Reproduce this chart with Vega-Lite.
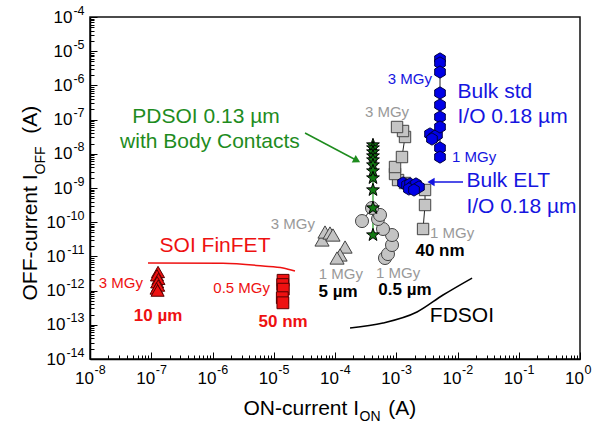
{
  "$schema": "https://vega.github.io/schema/vega-lite/v6.json",
  "width": 490,
  "height": 342,
  "autosize": {"type": "none"},
  "padding": {"left": 90, "top": 17, "right": 12, "bottom": 63},
  "background": "white",
  "config": {
    "view": {"stroke": "#111", "strokeWidth": 1.5},
    "font": "Liberation Sans",
    "axis": {
      "labelFont": "Liberation Sans", "labelFontSize": 17, "labelColor": "#000",
      "titleFont": "Liberation Sans", "titleFontSize": 21, "titleFontWeight": "normal", "titleColor": "#000",
      "domainColor": "#000", "domainWidth": 1.5, "tickColor": "#000", "tickWidth": 1,
      "grid": false, "labelOverlap": false, "labelFlush": false, "labelBound": false
    }
  },
  "datasets": {
    "tri10": [{"x":1.29e-7,"y":3.5e-12},{"x":1.24e-7,"y":2.8e-12},{"x":1.31e-7,"y":2.2e-12},{"x":1.25e-7,"y":1.75e-12},{"x":1.3e-7,"y":1.4e-12},{"x":1.22e-7,"y":1.15e-12},{"x":1.27e-7,"y":1.0e-12}],
    "sq50": [{"x":1.42e-5,"y":2.0e-12},{"x":1.40e-5,"y":1.5e-12},{"x":1.43e-5,"y":1.1e-12},{"x":1.38e-5,"y":6.2e-13},{"x":1.41e-5,"y":4.4e-13}],
    "tri5": [{"x":6.14e-5,"y":3.02e-11},{"x":6.87e-5,"y":5.16e-11},{"x":8.28e-5,"y":4.83e-11},{"x":9.27e-5,"y":4.22e-11},{"x":1.46e-4,"y":1.88e-11},{"x":1.21e-4,"y":1.10e-11},{"x":1.08e-4,"y":8.97e-12}],
    "circ05": [{"o":1,"x":6.55e-4,"y":8.97e-12},{"o":2,"x":7.33e-4,"y":1.17e-11},{"o":3,"x":8.53e-4,"y":2.15e-11},{"o":4,"x":8.53e-4,"y":4.22e-11},{"o":5,"x":6.08e-4,"y":6.33e-11},{"o":6,"x":5.04e-4,"y":1.24e-10},{"o":7,"x":5.43e-4,"y":1.63e-10},{"o":8,"x":4.02e-4,"y":2.6e-10},{"o":9,"x":2.76e-4,"y":1.08e-10}],
    "sq40": [{"o":1,"x":2.74e-3,"y":6.33e-11},{"o":2,"x":2.95e-3,"y":3.18e-10},{"o":3,"x":2.95e-3,"y":8.75e-10},{"o":4,"x":1.39e-3,"y":1.4e-9},{"o":5,"x":1.07e-3,"y":1.71e-9},{"o":6,"x":9.55e-4,"y":2.57e-9},{"o":7,"x":9.55e-4,"y":4.11e-9},{"o":8,"x":1.24e-3,"y":8.05e-9},{"o":9,"x":1.39e-3,"y":3.1e-8},{"o":10,"x":1.29e-3,"y":4.64e-8},{"o":11,"x":1.03e-3,"y":6.08e-8}],
    "elt": [{"x":1.29e-3,"y":1.4e-9},{"x":1.5e-3,"y":1.22e-9},{"x":1.68e-3,"y":1.31e-9},{"x":1.88e-3,"y":1.14e-9},{"x":2.1e-3,"y":1.31e-9},{"x":2.35e-3,"y":1.07e-9},{"x":1.61e-3,"y":9.35e-10},{"x":1.95e-3,"y":8.75e-10}],
    "std": [{"o":1,"x":5.18e-3,"y":5.92e-6},{"o":2,"x":5.18e-3,"y":4.52e-6},{"o":3,"x":5.18e-3,"y":2.46e-6},{"o":4,"x":5.18e-3,"y":6.0e-7},{"o":5,"x":5.18e-3,"y":2.67e-7},{"o":6,"x":5.18e-3,"y":1.19e-7},{"o":7,"x":5.18e-3,"y":6.08e-8},{"o":8,"x":5.18e-3,"y":1.48e-8},{"o":9,"x":5.18e-3,"y":8.05e-9}],
    "stdc": [{"x":3.56e-3,"y":3.79e-8},{"x":4.13e-3,"y":3.1e-8},{"x":4.62e-3,"y":3.55e-8},{"x":3.83e-3,"y":2.71e-8}],
    "pd": [{"o":1,"x":4.17e-4,"y":1.81e-8},{"o":2,"x":4.17e-4,"y":1.48e-8},{"o":3,"x":4.17e-4,"y":1.13e-8},{"o":4,"x":4.17e-4,"y":8.63e-9},{"o":5,"x":4.17e-4,"y":6.59e-9},{"o":6,"x":4.17e-4,"y":4.71e-9},{"o":7,"x":4.17e-4,"y":3.14e-9},{"o":8,"x":4.17e-4,"y":1.96e-9},{"o":9,"x":4.17e-4,"y":8.75e-10},{"o":10,"x":4.17e-4,"y":2.6e-10},{"o":11,"x":4.17e-4,"y":4.22e-11}],
    "finCurve": [{"o":1,"x":8.85e-8,"y":6.41e-12},{"o":2,"x":1.48e-6,"y":6.3e-12},{"o":3,"x":6.67e-6,"y":5.24e-12},{"o":4,"x":1.42e-5,"y":4.58e-12},{"o":5,"x":2.22e-5,"y":3.74e-12}],
    "fdCurve": [{"o":1,"x":1.76e-4,"y":8.05e-14},{"o":2,"x":6.08e-4,"y":1.13e-13},{"o":3,"x":2.18e-3,"y":2.37e-13},{"o":4,"x":5.8e-3,"y":7.43e-13},{"o":5,"x":1.73e-2,"y":2.33e-12}],
    "gArrow": [{"x":3.24e-5,"y":4.06e-8,"x2":2.28e-4,"y2":6.37e-9}],
    "gHead": [{"x":2.28e-4,"y":6.37e-9}],
    "bArrow": [{"x":1.23e-2,"y":1.5e-9,"x2":3.69e-3,"y2":1.5e-9}],
    "bHead": [{"x":3.69e-3,"y":1.5e-9}],
    "lblRedMGy": [{"x":7.33e-8,"y":1.67e-12,"t":"3 MGy"},{"x":8.68e-6,"y":1.19e-12,"t":"0.5 MGy"}],
    "lblRedBold": [{"x":1.29e-7,"y":1.81e-13,"t":"10 µm"},{"x":1.42e-5,"y":1.21e-13,"t":"50 nm"}],
    "lblRedBig": [{"x":1.1e-6,"y":2.01e-11,"t":"SOI FinFET"}],
    "lblGrayC": [{"x":1.25e-4,"y":3.05e-12,"t":"1 MGy"},{"x":1.07e-3,"y":3.27e-12,"t":"1 MGy"},{"x":7.06e-4,"y":1.67e-7,"t":"3 MGy"}],
    "lblGrayR": [{"x":4.71e-5,"y":8.85e-11,"t":"3 MGy"}],
    "lblGrayL": [{"x":3.56e-3,"y":4.83e-11,"t":"1 MGy"}],
    "lblBlackBold": [{"x":1.12e-4,"y":9.1e-13,"t":"5 µm"},{"x":1.39e-3,"y":1.04e-12,"t":"0.5 µm"},{"x":5.18e-3,"y":1.44e-11,"t":"40 nm"}],
    "lblFd": [{"x":1.18e-2,"y":1.81e-13,"t":"FDSOI"}],
    "lblGreen": [{"x":7.83e-7,"y":1.19e-7,"t":"PDSOI 0.13 µm"},{"x":9.1e-7,"y":2.21e-8,"t":"with Body Contacts"}],
    "lblBlueBig": [{"x":1.0e-2,"y":6.5e-7,"t":"Bulk std"},{"x":1.0e-2,"y":1.19e-7,"t":"I/O 0.18 µm"},{"x":1.4e-2,"y":1.6e-9,"t":"Bulk ELT"},{"x":1.4e-2,"y":2.78e-10,"t":"I/O 0.18 µm"}],
    "lblBlueR": [{"x":3.84e-3,"y":1.54e-6,"t":"3 MGy"}],
    "lblBlueL": [{"x":8.13e-3,"y":8.05e-9,"t":"1 MGy"}]
  },
  "resolve": {"axis": {"x": "independent", "y": "independent"}},
  "layer": [
    {
      "encoding": {
        "x": {
          "field": "x", "type": "quantitative",
          "scale": {"type": "log", "domain": [1e-8, 1], "nice": false},
          "axis": {
            "orient": "bottom",
            "title": "ON-current I\u00a0\u00a0\u00a0\u00a0\u00a0(A)",
            "titleAlign": "left", "titleAnchor": "start", "titleBaseline": "alphabetic", "titleX": 153, "titleY": 55,
            "values": [1e-8,2e-8,3e-8,4e-8,5e-8,6e-8,7e-8,8e-8,9e-8,1e-7,2e-7,3e-7,4e-7,5e-7,6e-7,7e-7,8e-7,9e-7,1e-6,2e-6,3e-6,4e-6,5e-6,6e-6,7e-6,8e-6,9e-6,1e-5,2e-5,3e-5,4e-5,5e-5,6e-5,7e-5,8e-5,9e-5,1e-4,2e-4,3e-4,4e-4,5e-4,6e-4,7e-4,8e-4,9e-4,1e-3,2e-3,3e-3,4e-3,5e-3,6e-3,7e-3,8e-3,9e-3,1e-2,2e-2,3e-2,4e-2,5e-2,6e-2,7e-2,8e-2,9e-2,0.1,0.2,0.3,0.4,0.5,0.6,0.7,0.8,0.9,1],
            "labelExpr": "abs(log(datum.value)/LN10 - round(log(datum.value)/LN10)) > 0.01 ? '' : '10'",
            "tickSize": {"condition": {"test": "abs(log(datum.value)/LN10 - round(log(datum.value)/LN10)) < 0.01", "value": -7}, "value": -4},
            "labelAlign": "center", "labelBaseline": "top", "labelOffset": -6, "labelPadding": 18
          }
        },
        "y": {
          "field": "y", "type": "quantitative",
          "scale": {"type": "log", "domain": [1e-14, 1e-4], "nice": false},
          "axis": {
            "orient": "left",
            "title": "OFF-current I\u00a0\u00a0\u00a0\u00a0\u00a0\u00a0\u00a0(A)",
            "titleAngle": -90, "titleAlign": "left", "titleAnchor": "start", "titleBaseline": "alphabetic", "titleX": -54, "titleY": 283,
            "values": [1e-14,2e-14,3e-14,4e-14,5e-14,6e-14,7e-14,8e-14,9e-14,1e-13,2e-13,3e-13,4e-13,5e-13,6e-13,7e-13,8e-13,9e-13,1e-12,2e-12,3e-12,4e-12,5e-12,6e-12,7e-12,8e-12,9e-12,1e-11,2e-11,3e-11,4e-11,5e-11,6e-11,7e-11,8e-11,9e-11,1e-10,2e-10,3e-10,4e-10,5e-10,6e-10,7e-10,8e-10,9e-10,1e-9,2e-9,3e-9,4e-9,5e-9,6e-9,7e-9,8e-9,9e-9,1e-8,2e-8,3e-8,4e-8,5e-8,6e-8,7e-8,8e-8,9e-8,1e-7,2e-7,3e-7,4e-7,5e-7,6e-7,7e-7,8e-7,9e-7,1e-6,2e-6,3e-6,4e-6,5e-6,6e-6,7e-6,8e-6,9e-6,1e-5,2e-5,3e-5,4e-5,5e-5,6e-5,7e-5,8e-5,9e-5,1e-4],
            "labelExpr": "abs(log(datum.value)/LN10 - round(log(datum.value)/LN10)) > 0.01 ? '' : '10'",
            "tickSize": {"condition": {"test": "abs(log(datum.value)/LN10 - round(log(datum.value)/LN10)) < 0.01", "value": -7}, "value": -4},
            "labelAlign": "right", "labelBaseline": "middle",
            "labelPadding": {"condition": {"test": "datum.value < 3e-10", "value": 32}, "value": 25}
          }
        }
      },
      "layer": [
        {"data": {"name": "finCurve"}, "mark": {"type": "line", "color": "#ee1111", "strokeWidth": 1.5, "interpolate": "monotone"}, "encoding": {"order": {"field": "o"}}},
        {"data": {"name": "fdCurve"}, "mark": {"type": "line", "color": "#000", "strokeWidth": 1.5, "interpolate": "monotone"}, "encoding": {"order": {"field": "o"}}},
        {"data": {"name": "circ05"}, "mark": {"type": "line", "color": "#222", "strokeWidth": 1}, "encoding": {"order": {"field": "o"}}},
        {"data": {"name": "sq40"}, "mark": {"type": "line", "color": "#222", "strokeWidth": 1}, "encoding": {"order": {"field": "o"}}},
        {"data": {"name": "std"}, "mark": {"type": "line", "color": "#222", "strokeWidth": 1}, "encoding": {"order": {"field": "o"}}},
        {"data": {"name": "pd"}, "mark": {"type": "line", "color": "#1e9a1e", "strokeWidth": 1.2}, "encoding": {"order": {"field": "o"}}},
        {"data": {"name": "tri10"}, "mark": {"type": "point", "shape": "triangle-up", "filled": true, "color": "#ee1111", "stroke": "#550000", "strokeWidth": 1, "size": 170, "opacity": 1}},
        {"data": {"name": "sq50"}, "mark": {"type": "point", "shape": "square", "filled": true, "color": "#ee1111", "stroke": "#550000", "strokeWidth": 1, "size": 140, "opacity": 1}},
        {"data": {"name": "tri5"}, "mark": {"type": "point", "shape": "triangle-up", "filled": true, "color": "#c4c4c4", "stroke": "#444", "strokeWidth": 1, "size": 200, "opacity": 1}},
        {"data": {"name": "circ05"}, "mark": {"type": "point", "shape": "circle", "filled": true, "color": "#c4c4c4", "stroke": "#444", "strokeWidth": 1, "size": 170, "opacity": 1}},
        {"data": {"name": "sq40"}, "mark": {"type": "point", "shape": "square", "filled": true, "color": "#c4c4c4", "stroke": "#444", "strokeWidth": 1, "size": 130, "opacity": 1}},
        {"data": {"name": "elt"}, "mark": {"type": "point", "shape": "M0,-1L0.866,-0.5L0.866,0.5L0,1L-0.866,0.5L-0.866,-0.5Z", "filled": true, "color": "#0000e6", "stroke": "#000044", "strokeWidth": 1, "size": 150, "opacity": 1}},
        {"data": {"name": "stdc"}, "mark": {"type": "point", "shape": "M0,-1L0.866,-0.5L0.866,0.5L0,1L-0.866,0.5L-0.866,-0.5Z", "filled": true, "color": "#0000e6", "stroke": "#000044", "strokeWidth": 1, "size": 150, "opacity": 1}},
        {"data": {"name": "std"}, "mark": {"type": "point", "shape": "M0,-1L0.866,-0.5L0.866,0.5L0,1L-0.866,0.5L-0.866,-0.5Z", "filled": true, "color": "#0000e6", "stroke": "#000044", "strokeWidth": 1, "size": 150, "opacity": 1}},
        {"data": {"name": "pd"}, "mark": {"type": "point", "shape": "M0,-1L0.235,-0.324L0.951,-0.309L0.38,0.124L0.588,0.809L0,0.4L-0.588,0.809L-0.38,0.124L-0.951,-0.309L-0.235,-0.324Z", "filled": true, "color": "#127a12", "stroke": "#000", "strokeWidth": 1, "size": 180, "opacity": 1}},
        {"data": {"name": "gArrow"}, "mark": {"type": "rule", "color": "#1e8c1e", "strokeWidth": 1.5}, "encoding": {"x2": {"field": "x2"}, "y2": {"field": "y2"}}},
        {"data": {"name": "gHead"}, "mark": {"type": "point", "shape": "triangle-right", "filled": true, "color": "#1e8c1e", "size": 70, "angle": 28, "opacity": 1}},
        {"data": {"name": "bArrow"}, "mark": {"type": "rule", "color": "#1515e0", "strokeWidth": 1.5}, "encoding": {"x2": {"field": "x2"}, "y2": {"field": "y2"}}},
        {"data": {"name": "bHead"}, "mark": {"type": "point", "shape": "triangle-left", "filled": true, "color": "#1515e0", "size": 70, "opacity": 1}},
        {"data": {"name": "lblRedMGy"}, "mark": {"type": "text", "align": "right", "baseline": "middle", "fontSize": 15, "color": "#ee1111"}, "encoding": {"text": {"field": "t"}}},
        {"data": {"name": "lblRedBold"}, "mark": {"type": "text", "align": "center", "baseline": "middle", "fontSize": 17, "fontWeight": "bold", "color": "#ee1111"}, "encoding": {"text": {"field": "t"}}},
        {"data": {"name": "lblRedBig"}, "mark": {"type": "text", "align": "center", "baseline": "middle", "fontSize": 21, "color": "#ee1111"}, "encoding": {"text": {"field": "t"}}},
        {"data": {"name": "lblGrayC"}, "mark": {"type": "text", "align": "center", "baseline": "middle", "fontSize": 15, "color": "#999"}, "encoding": {"text": {"field": "t"}}},
        {"data": {"name": "lblGrayR"}, "mark": {"type": "text", "align": "right", "baseline": "middle", "fontSize": 15, "color": "#999"}, "encoding": {"text": {"field": "t"}}},
        {"data": {"name": "lblGrayL"}, "mark": {"type": "text", "align": "left", "baseline": "middle", "fontSize": 15, "color": "#999"}, "encoding": {"text": {"field": "t"}}},
        {"data": {"name": "lblBlackBold"}, "mark": {"type": "text", "align": "center", "baseline": "middle", "fontSize": 17, "fontWeight": "bold", "color": "#000"}, "encoding": {"text": {"field": "t"}}},
        {"data": {"name": "lblFd"}, "mark": {"type": "text", "align": "center", "baseline": "middle", "fontSize": 21, "color": "#000"}, "encoding": {"text": {"field": "t"}}},
        {"data": {"name": "lblGreen"}, "mark": {"type": "text", "align": "center", "baseline": "middle", "fontSize": 21, "color": "#1e8c1e"}, "encoding": {"text": {"field": "t"}}},
        {"data": {"name": "lblBlueBig"}, "mark": {"type": "text", "align": "left", "baseline": "middle", "fontSize": 21, "color": "#1515e0"}, "encoding": {"text": {"field": "t"}}},
        {"data": {"name": "lblBlueR"}, "mark": {"type": "text", "align": "right", "baseline": "middle", "fontSize": 15, "color": "#1515e0"}, "encoding": {"text": {"field": "t"}}},
        {"data": {"name": "lblBlueL"}, "mark": {"type": "text", "align": "left", "baseline": "middle", "fontSize": 15, "color": "#1515e0"}, "encoding": {"text": {"field": "t"}}}
      ]
    },
    {
      "data": {"name": "gHead"},
      "mark": {"type": "point", "opacity": 0},
      "encoding": {
        "x": {
          "field": "x", "type": "quantitative",
          "scale": {"type": "log", "domain": [1e-8, 1], "nice": false},
          "axis": {
            "orient": "bottom", "domain": false, "ticks": false,
            "values": [1e-8,1e-7,1e-6,1e-5,1e-4,1e-3,1e-2,0.1,1],
            "labelExpr": "(datum.value < 0.5 ? '-' : '') + abs(round(log(datum.value)/LN10))",
            "labelFontSize": 12.5, "labelAlign": "left", "labelBaseline": "top", "labelOffset": 4, "labelPadding": 4,
            "title": "ON", "titleFontSize": 14, "titleAlign": "left", "titleAnchor": "start", "titleBaseline": "alphabetic", "titleX": 269, "titleY": 61
          }
        },
        "y": {
          "field": "y", "type": "quantitative",
          "scale": {"type": "log", "domain": [1e-14, 1e-4], "nice": false},
          "axis": {
            "orient": "left", "domain": false, "ticks": false,
            "values": [1e-14,1e-13,1e-12,1e-11,1e-10,1e-9,1e-8,1e-7,1e-6,1e-5,1e-4],
            "labelExpr": "(datum.value < 0.5 ? '-' : '') + abs(round(log(datum.value)/LN10))",
            "labelFontSize": 12.5, "labelAlign": "right", "labelBaseline": "middle", "labelOffset": -7, "labelPadding": 6,
            "title": "OFF", "titleFontSize": 14, "titleAngle": -90, "titleAlign": "left", "titleAnchor": "start", "titleBaseline": "alphabetic", "titleX": -46, "titleY": 157
          }
        }
      }
    }
  ]
}
